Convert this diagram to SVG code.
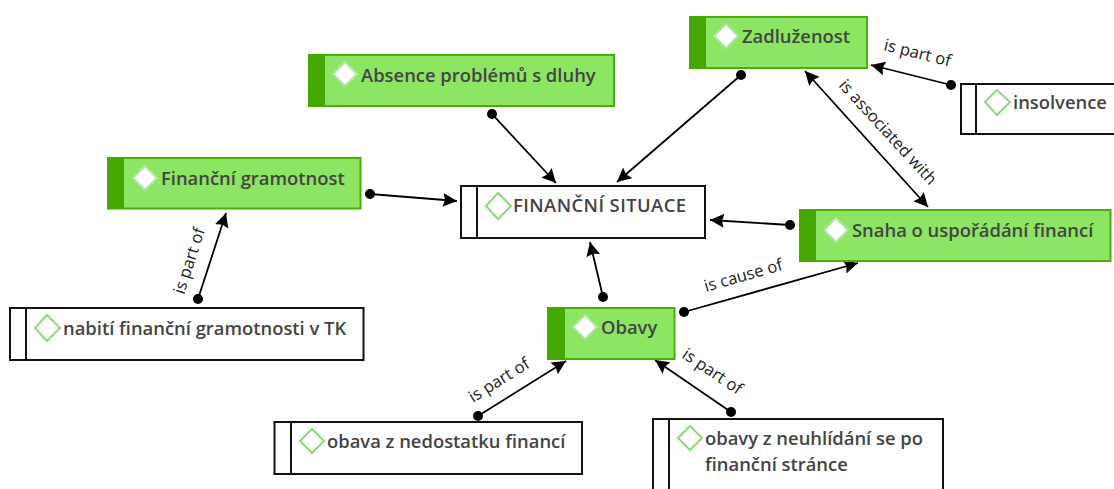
<svg xmlns="http://www.w3.org/2000/svg" width="1114" height="489" viewBox="0 0 1114 489">
<style>
text{font-family:"Open Sans","Noto Sans","Liberation Sans",sans-serif;}
.nt{font-size:18.4px;font-weight:600;fill:#444444;}
.lb{font-size:16.6px;fill:#222222;}
.g{fill:#8ce563;stroke:#4fad09;stroke-width:2;}
.gs{fill:#44a800;}
.w{fill:#ffffff;stroke:#111111;stroke-width:2;}
.dv{stroke:#111111;stroke-width:2;}
.dw{fill:#ffffff;stroke:#b5e3a5;stroke-width:2;}
.dg{fill:#ffffff;stroke:#8fd67f;stroke-width:2;}
.c{stroke:#000000;stroke-width:1.8;fill:none;marker-end:url(#a);}
.b{stroke:#000000;stroke-width:1.8;fill:none;marker-end:url(#a);marker-start:url(#as);}
.d{fill:#000000;}
</style>
<defs>
<marker id="a" markerUnits="userSpaceOnUse" markerWidth="16" markerHeight="16" refX="14" refY="8" orient="auto"><path d="M0 1L14 8L0 15L2 8Z" fill="#000"/></marker>
<marker id="as" markerUnits="userSpaceOnUse" markerWidth="16" markerHeight="16" refX="0" refY="8" orient="auto"><path d="M14 1L0 8L14 15L12 8Z" fill="#000"/></marker>
</defs>
<rect width="1114" height="489" fill="#ffffff"/>
<g id="connectors">
<line class="c" x1="492" y1="114" x2="556" y2="183"/><circle class="d" cx="492" cy="114" r="5"/>
<line class="c" x1="741" y1="75" x2="617" y2="182"/><circle class="d" cx="741" cy="75" r="5"/>
<line class="c" x1="370" y1="194" x2="457" y2="201"/><circle class="d" cx="370" cy="194" r="5"/>
<line class="c" x1="790" y1="225" x2="710" y2="220"/><circle class="d" cx="790" cy="225" r="5"/>
<line class="c" x1="603" y1="297" x2="590" y2="242"/><circle class="d" cx="603" cy="297" r="5"/>
<line class="c" x1="684" y1="312" x2="858" y2="263"/><circle class="d" cx="684" cy="312" r="5"/>
<line class="b" x1="805" y1="71" x2="928" y2="207"/>
<line class="c" x1="951" y1="85" x2="871" y2="65"/><circle class="d" cx="951" cy="85" r="5"/>
<line class="c" x1="198" y1="299" x2="226" y2="213"/><circle class="d" cx="198" cy="299" r="5"/>
<line class="c" x1="478" y1="416" x2="566" y2="361"/><circle class="d" cx="478" cy="416" r="5"/>
<line class="c" x1="731" y1="412" x2="655" y2="360"/><circle class="d" cx="731" cy="412" r="5"/>
<text class="lb" transform="translate(883,50) rotate(14)">is part of</text>
<text class="lb" transform="translate(838,86) rotate(47.5)">is associated with</text>
<text class="lb" transform="translate(184,295) rotate(-72)">is part of</text>
<text class="lb" transform="translate(706,292) rotate(-16)">is cause of</text>
<text class="lb" transform="translate(473,403) rotate(-32)">is part of</text>
<text class="lb" transform="translate(681,357) rotate(34)">is part of</text>
</g>
<g id="n-zadluzenost"><rect class="g" x="690" y="17" width="177" height="51"/><rect class="gs" x="689" y="16" width="17" height="53"/><path class="dw" d="M726 24L738 36L726 48L714 36Z"/><text class="nt" x="742" y="43">Zadluženost</text></g>
<g id="n-absence"><rect class="g" x="309" y="55" width="305" height="51"/><rect class="gs" x="308" y="54" width="17" height="53"/><path class="dw" d="M345 62L357 74L345 86L333 74Z"/><text class="nt" x="361" y="82">Absence problémů s dluhy</text></g>
<g id="n-insolvence"><rect class="w" x="961" y="84" width="170" height="50"/><line class="dv" x1="976" y1="84" x2="976" y2="134"/><path class="dg" d="M997 90L1010 102L997 115L985 102Z"/><text class="nt" x="1013" y="109">insolvence</text></g>
<g id="n-gramotnost"><rect class="g" x="108" y="158" width="252.500" height="50.500"/><rect class="gs" x="107" y="157" width="17" height="52"/><path class="dw" d="M145 166L157 178L145 190L133 178Z"/><text class="nt" x="161" y="185">Finanční gramotnost</text></g>
<g id="n-situace"><rect class="w" x="461" y="186" width="244" height="52"/><line class="dv" x1="477" y1="186" x2="477" y2="238"/><path class="dg" d="M498 193L511 206L498 219L486 206Z"/><text class="nt" x="513" y="212" textLength="173">FINANČNÍ SITUACE</text></g>
<g id="n-snaha"><rect class="g" x="800" y="210" width="310.500" height="51"/><rect class="gs" x="799" y="209" width="17" height="53"/><path class="dw" d="M836 218L848 230L836 242L824 230Z"/><text class="nt" x="852" y="237">Snaha o uspořádání financí</text></g>
<g id="n-nabiti"><rect class="w" x="10" y="308" width="353.500" height="52"/><line class="dv" x1="26" y1="308" x2="26" y2="360"/><path class="dg" d="M47 315L60 328L47 341L35 328Z"/><text class="nt" x="63" y="335">nabití finanční gramotnosti v TK</text></g>
<g id="n-obavy"><rect class="g" x="548" y="308" width="126.500" height="51"/><rect class="gs" x="547" y="307" width="18" height="53"/><path class="dw" d="M585 315L597 327L585 339L573 327Z"/><text class="nt" x="601" y="334">Obavy</text></g>
<g id="n-obava"><rect class="w" x="274.500" y="422" width="307.500" height="52"/><line class="dv" x1="291" y1="422" x2="291" y2="474"/><path class="dg" d="M312 429L324 441L312 453L300 441Z"/><text class="nt" x="327" y="448">obava z nedostatku financí</text></g>
<g id="n-neuhlidani"><rect class="w" x="653" y="419" width="290" height="90"/><line class="dv" x1="669" y1="419" x2="669" y2="489"/><path class="dg" d="M690 426L702 438L690 450L678 438Z"/><text class="nt" x="705" y="445">obavy z neuhlídání se po</text><text class="nt" x="705" y="471">finanční stránce</text></g>
</svg>
